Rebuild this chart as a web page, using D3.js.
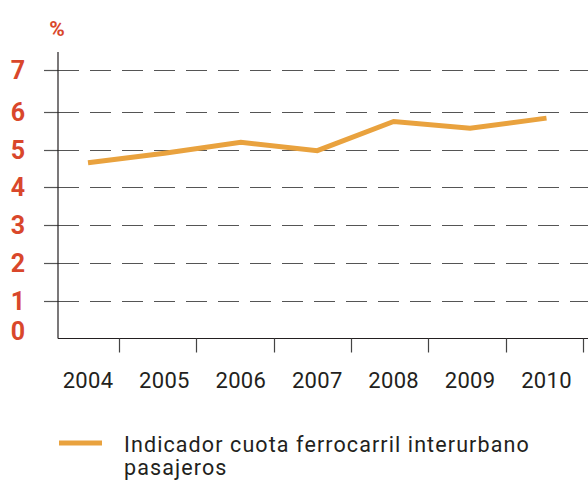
<!DOCTYPE html>
<html>
<head>
<meta charset="utf-8">
<script src="https://cdn.jsdelivr.net/npm/d3@7"></script>
<style>
  html, body { margin: 0; padding: 0; background: #fff; }
  svg { display: block; }
</style>
</head>
<body>
<svg id="chart" width="588" height="482"></svg>
<script>
// data
const years = ["2004", "2005", "2006", "2007", "2008", "2009", "2010"];
const cuota = [4.65, 4.9, 5.19, 4.97, 5.74, 5.56, 5.83];
const yTicks = [0, 1, 2, 3, 4, 5, 6, 7];
const seriesLabel = ["Indicador cuota ferrocarril interurbano", "pasajeros"];

const red = "#d9472b";
const orange = "#e9a23e";
const ink = "#231f20";

const svg = d3.select("#chart");

const axisX = 58, axisBottom = 338.5, axisTop = 52;

// the source spaces 6→7 a little wider than the rest
const y = d3.scaleLinear().domain([0, 6, 7]).range([axisBottom, 111.7, 69.5]);
const x = d3.scalePoint().domain(years).range([88, 546.5]);
const xBand = d3.scaleBand().domain(years).range([42.7, 584]);

// gridlines: short solid tick then dashes
const grid = svg.append("g");
yTicks.filter(v => v > 0).forEach(v => {
    const gy = Math.round(y(v)) + 0.5;
    grid.append("line")
        .attr("x1", 44).attr("x2", axisX).attr("y1", gy).attr("y2", gy)
        .attr("stroke", "#555").attr("stroke-width", 1.2);
    grid.append("line")
        .attr("x1", axisX).attr("x2", 588).attr("y1", gy).attr("y2", gy)
        .attr("stroke", "#555").attr("stroke-width", 1.2)
        .attr("stroke-dasharray", "21,11");
});

// axes
svg.append("line")
    .attr("x1", axisX).attr("x2", axisX).attr("y1", axisTop).attr("y2", axisBottom)
    .attr("stroke", ink).attr("stroke-width", 1.2);
svg.append("line")
    .attr("x1", axisX).attr("x2", 588).attr("y1", axisBottom).attr("y2", axisBottom)
    .attr("stroke", ink).attr("stroke-width", 1.2);

xBand.domain().forEach(yr => {
    const tx = Math.round(xBand(yr) + xBand.bandwidth()) - 0.5;
    svg.append("line")
        .attr("x1", tx).attr("x2", tx).attr("y1", axisBottom).attr("y2", axisBottom + 14)
        .attr("stroke", "#444").attr("stroke-width", 1.2);
});

svg.append("g").selectAll("text")
    .data(years)
    .join("text")
    .attr("x", d => x(d))
    .attr("y", 387.5)
    .attr("text-anchor", "middle")
    .style("font-family", "Roboto, sans-serif")
    .style("font-size", "22px")
    .style("letter-spacing", "0.3px")
    .style("fill", ink)
    .text(d => d);

// y labels
svg.append("g").selectAll("text")
    .data(yTicks)
    .join("text")
    .attr("x", 18)
    .attr("y", d => Math.min(y(d), axisBottom - 8))
    .attr("dy", "0.36em")
    .attr("text-anchor", "middle")
    .style("font-family", "Roboto, sans-serif")
    .style("font-weight", "bold")
    .style("font-size", "25px")
    .style("fill", red)
    .text(d => d);

svg.append("text")
    .attr("x", 57).attr("y", 35.5)
    .attr("text-anchor", "middle")
    .style("font-family", "Roboto, sans-serif")
    .style("font-weight", "bold")
    .style("font-size", "21px")
    .style("fill", red)
    .text("%");

// series line
const line = d3.line()
    .x((d, i) => x(years[i]))
    .y(d => y(d));

svg.append("path")
    .datum(cuota)
    .attr("fill", "none")
    .attr("stroke", orange)
    .attr("stroke-width", 5)
    .attr("stroke-linejoin", "miter")
    .attr("d", line);

// legend
svg.append("line")
    .attr("x1", 59).attr("x2", 102).attr("y1", 443).attr("y2", 443)
    .attr("stroke", orange).attr("stroke-width", 5);

svg.append("g").selectAll("text")
    .data(seriesLabel)
    .join("text")
    .attr("x", 124)
    .attr("y", (d, i) => 452.3 + i * 23)
    .style("font-family", "Roboto, sans-serif")
    .style("font-size", "21.5px")
    .style("letter-spacing", "1.1px")
    .style("fill", ink)
    .text(d => d);
</script>
</body>
</html>
